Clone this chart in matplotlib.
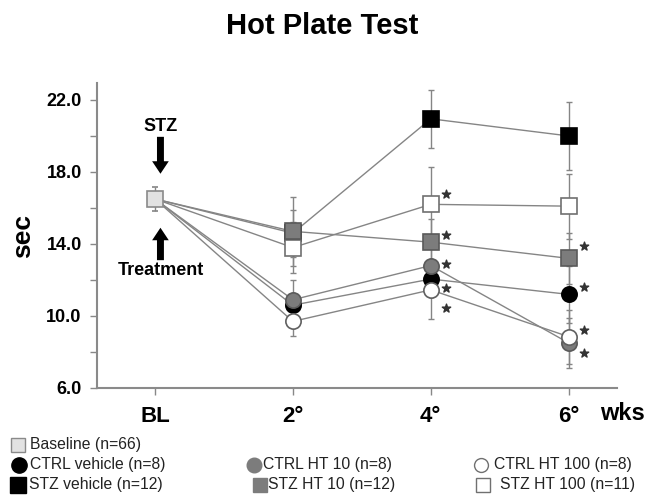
import matplotlib
matplotlib.use("Agg")
import matplotlib.pyplot as plt
from matplotlib.lines import Line2D

plt.rcParams['font.family'] = ['Liberation Sans', 'DejaVu Sans']

# data (hot plate latency, sec)
weeks = ["BL", "2°", "4°", "6°"]
baseline = 16.5
baseline_err = 0.65

ctrl_vehicle = [16.5, 10.6, 12.05, 11.2]
ctrl_vehicle_err = [0, 0.6, 1.0, 1.6]
ctrl_ht10 = [16.5, 10.9, 12.8, 8.5]
ctrl_ht10_err = [0, 1.1, 1.2, 1.4]
ctrl_ht100 = [16.5, 9.7, 11.45, 8.85]
ctrl_ht100_err = [0, 0.8, 1.6, 1.5]
stz_vehicle = [16.5, 14.6, 20.95, 20.0]
stz_vehicle_err = [0, 1.3, 1.6, 1.9]
stz_ht10 = [16.5, 14.7, 14.1, 13.2]
stz_ht10_err = [0, 1.9, 1.3, 1.4]
stz_ht100 = [16.5, 13.8, 16.2, 16.1]
stz_ht100_err = [0, 1.4, 2.1, 1.8]

# significance stars (week index, y)
star_x = [2, 2, 2, 2, 2, 3, 3, 3, 3]
star_y = [16.8, 14.5, 12.9, 11.55, 10.45, 13.9, 11.6, 9.2, 7.95]

W, H = 649, 495
fig = plt.figure(figsize=(W / 100, H / 100), dpi=100)
ax = fig.add_axes([97 / W, 1 - 388 / H, 520 / W, 305 / H])

x = list(range(len(weeks)))
line_col = "#858585"

series = [
    (stz_vehicle, stz_vehicle_err, "s", "black", "black", 11.5),
    (stz_ht100, stz_ht100_err, "s", "white", "#707070", 11.5),
    (stz_ht10, stz_ht10_err, "s", "#7c7c7c", "#5a5a5a", 11.5),
    (ctrl_vehicle, ctrl_vehicle_err, "o", "black", "black", 11),
    (ctrl_ht10, ctrl_ht10_err, "o", "#7c7c7c", "#5a5a5a", 11),
    (ctrl_ht100, ctrl_ht100_err, "o", "white", "#606060", 11),
]

for i, (vals, err, mk, fc, ec, ms) in enumerate(series):
    ax.errorbar(x[1:], vals[1:], yerr=err[1:], fmt="none", ecolor=line_col,
                elinewidth=1, capsize=2, capthick=1, zorder=1)
    ax.plot(x, vals, "-", color=line_col, lw=1, zorder=2)
for i, (vals, err, mk, fc, ec, ms) in enumerate(series):
    ax.plot(x[1:], vals[1:], mk, ms=ms, mfc=fc, mec=ec, mew=1.2, zorder=3 + i)

ax.errorbar([0], [baseline], yerr=[baseline_err], fmt="s", ms=11, mfc="#e2e2e2",
            mec="#8a8a8a", mew=1.2, ecolor=line_col, elinewidth=1, capsize=2, zorder=10)

ax.scatter([xi + 0.11 for xi in star_x], star_y, marker="*", s=40, color="#333333",
           zorder=12)

ax.set_xlim(-0.42, 3.35)
ax.set_ylim(6, 22.94)
ax.set_xticks(x)
ax.set_xticklabels(weeks, fontsize=16, fontweight="bold")
ax.set_yticks([6, 10, 14, 18, 22])
ax.set_yticklabels(["6.0", "10.0", "14.0", "18.0", "22.0"], fontsize=13, fontweight="bold")
ax.set_yticks([8, 12, 16, 20], minor=True)
ax.tick_params(axis="both", which="both", direction="out", length=5, width=1,
               color="#888888")
ax.tick_params(axis="y", pad=6)
ax.tick_params(axis="x", pad=8)
for s in ["top", "right"]:
    ax.spines[s].set_visible(False)
for s in ["left", "bottom"]:
    ax.spines[s].set_color("#8a8a8a")
    ax.spines[s].set_linewidth(1.5)

ax.set_ylabel("sec", fontsize=19, fontweight="bold", labelpad=8)

# STZ / Treatment arrows
ax.text(0.04, 20.5, "STZ", ha="center", va="center", fontsize=13, fontweight="bold")
ax.annotate("", xy=(0.04, 17.9), xytext=(0.04, 19.95),
            arrowprops=dict(arrowstyle="simple,head_width=1.2,head_length=0.9,tail_width=0.5",
                            color="black", lw=0, shrinkA=0, shrinkB=0))
ax.annotate("", xy=(0.04, 14.9), xytext=(0.04, 13.1),
            arrowprops=dict(arrowstyle="simple,head_width=1.2,head_length=0.9,tail_width=0.5",
                            color="black", lw=0, shrinkA=0, shrinkB=0))
ax.text(0.04, 12.55, "Treatment", ha="center", va="center", fontsize=13, fontweight="bold")

fig.text(322 / W, 1 - 26 / H, "Hot Plate Test", ha="center", va="center",
         fontsize=21, fontweight="bold")
fig.text(622 / W, 1 - 414 / H, "wks", ha="center", va="center", fontsize=17,
         fontweight="bold")

# legend drawn by hand
legend_items = [
    (18, 445, "s", "#e2e2e2", "#8a8a8a", 10, 30, "Baseline (n=66)"),
    (19, 465, "o", "black", "black", 11, 30, "CTRL vehicle (n=8)"),
    (18, 485, "s", "black", "black", 11, 29, "STZ vehicle (n=12)"),
    (254, 465, "o", "#7c7c7c", "#7c7c7c", 10.5, 263, "CTRL HT 10 (n=8)"),
    (260, 485, "s", "#7c7c7c", "#7c7c7c", 10, 268, "STZ HT 10 (n=12)"),
    (481, 465, "o", "white", "#707070", 10, 494, "CTRL HT 100 (n=8)"),
    (483, 485, "s", "white", "#707070", 10, 500, "STZ HT 100 (n=11)"),
]
for mx, my, mk, fc, ec, ms, tx, label in legend_items:
    fig.add_artist(Line2D([mx / W], [1 - my / H], transform=fig.transFigure,
                          marker=mk, ms=ms, mfc=fc, mec=ec, mew=1, ls="none"))
    fig.text(tx / W, 1 - my / H, label, ha="left", va="center", fontsize=11.3,
             color="#222222")

fig.savefig("out.png", dpi=100)
